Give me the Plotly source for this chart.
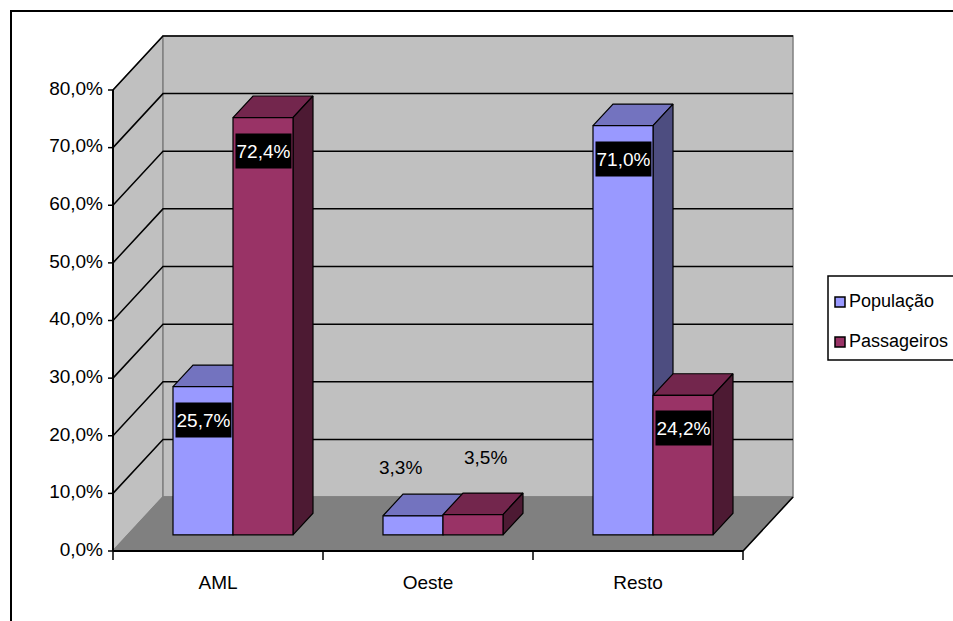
import plotly.graph_objects as go

# ---------------- data ----------------
categories = ["AML", "Oeste", "Resto"]
populacao = [25.7, 3.3, 71.0]
passageiros = [72.4, 3.5, 24.2]
series_names = ["População", "Passageiros"]
y_ticks = [0, 10, 20, 30, 40, 50, 60, 70, 80]

# ---------------- geometry / style ----------------
W, H = 953, 621
PX_LEFT = 113          # front-left corner of floor (px)
SLOT = 210             # px per category
PX_ZERO = 551          # px of 0% on front plane
PX_PER = 5.7625        # px per 1%
DEPTH_PX_X, DEPTH_PX_Y = 50, 54
DXu = DEPTH_PX_X / SLOT
DYv = DEPTH_PX_Y / PX_PER
D_F, D_B = 0.3, 0.7    # bar front / back depth fraction
BAR_W = 60 / SLOT
YMAX = 80

xr = [(0 - PX_LEFT) / SLOT - 0.5, (W - PX_LEFT) / SLOT - 0.5]
yr = [-(H - PX_ZERO) / PX_PER, PX_ZERO / PX_PER]


def px2u(px):
    return (px - PX_LEFT) / SLOT - 0.5


def py2v(py):
    return (PX_ZERO - py) / PX_PER


u_left = -0.5
u_right = len(categories) - 0.5

FONT = "Liberation Sans, Arial, sans-serif"
FS = 19
FS_LEG = 18

colors = {
    "front": ["#9999FF", "#993366"],
    "top": ["#7373BF", "#73264D"],
    "side": ["#4D4D80", "#4D1A33"],
}


def P(u, v, d):
    return u + DXu * d, v + DYv * d


def poly(pts):
    xs = [p[0] for p in pts] + [pts[0][0], None]
    ys = [p[1] for p in pts] + [pts[0][1], None]
    return xs, ys


fig = go.Figure()


def add_poly(pts_list, fill, line_color, lw=1.0):
    xs, ys = [], []
    for pts in pts_list:
        a, b = poly(pts)
        xs += a
        ys += b
    fig.add_trace(go.Scatter(x=xs, y=ys, mode="lines", fill="toself", fillcolor=fill,
                             line=dict(color=line_color, width=lw), hoverinfo="skip",
                             showlegend=False))


def add_lines(segs, color, lw):
    xs, ys = [], []
    for seg in segs:
        xs += [p[0] for p in seg] + [None]
        ys += [p[1] for p in seg] + [None]
    fig.add_trace(go.Scatter(x=xs, y=ys, mode="lines", line=dict(color=color, width=lw),
                             hoverinfo="skip", showlegend=False))


# walls and floor
add_poly([[P(u_left, 0, 0), P(u_left, YMAX, 0), P(u_left, YMAX, 1), P(u_left, 0, 1)]], "#C0C0C0", "#808080", 1.5)
add_poly([[P(u_left, 0, 1), P(u_left, YMAX, 1), P(u_right, YMAX, 1), P(u_right, 0, 1)]], "#C0C0C0", "#808080", 1.5)
add_poly([[P(u_left, 0, 0), P(u_left, 0, 1), P(u_right, 0, 1), P(u_right, 0, 0)]], "#808080", "#808080", 1.5)

# gridlines
add_lines([[P(u_left, v, 0), P(u_left, v, 1), P(u_right, v, 1)] for v in y_ticks if v > 0], "#000000", 1.5)

# bars: top and side faces (front faces are bars on the overlay axes)
for s, vals in enumerate([populacao, passageiros]):
    tops, sides = [], []
    for i, val in enumerate(vals):
        uf0 = i - BAR_W if s == 0 else i
        uf1 = uf0 + BAR_W
        tops.append([P(uf0, val, D_F), P(uf1, val, D_F), P(uf1, val, D_B), P(uf0, val, D_B)])
        sides.append([P(uf1, 0, D_F), P(uf1, val, D_F), P(uf1, val, D_B), P(uf1, 0, D_B)])
    add_poly(tops, colors["top"][s], "#000000", 1.2)
    add_poly(sides, colors["side"][s], "#000000", 1.2)

# front axes
add_lines([[P(u_left, 0, 0), P(u_left, YMAX, 0)]], "#000000", 2)
add_lines([[P(u_left, 0, 0), P(u_right, 0, 0)]], "#000000", 2)
add_lines([[P(u_right, 0, 0), P(u_right, 0, 1)]], "#000000", 1.5)
tick_u = 5 / SLOT
add_lines([[(u_left - tick_u, v), (u_left, v)] for v in y_ticks], "#000000", 1.5)
add_lines([[(k - 0.5, 0), (k - 0.5, -9 / PX_PER)] for k in range(len(categories) + 1)], "#000000", 1.5)

# tick labels
fig.add_trace(go.Scatter(x=[u_left - 10 / SLOT] * len(y_ticks), y=y_ticks, mode="text",
                         text=[f"{v:.1f}".replace(".", ",") + "%" for v in y_ticks],
                         textposition="middle left", textfont=dict(family=FONT, size=FS, color="#000"),
                         hoverinfo="skip", showlegend=False))
fig.add_trace(go.Scatter(x=list(range(len(categories))), y=[-33 / PX_PER] * len(categories), mode="text",
                         text=categories, textposition="middle center",
                         textfont=dict(family=FONT, size=FS, color="#000"),
                         hoverinfo="skip", showlegend=False))

# legend (drawn manually to match the box layout)
leg_py = [302, 342]
fig.add_trace(go.Scatter(x=[px2u(840)] * 2, y=[py2v(p) for p in leg_py], mode="markers",
                         marker=dict(symbol="square", size=10, color=colors["front"],
                                     line=dict(color="#000", width=1.5)),
                         hoverinfo="skip", showlegend=False, cliponaxis=False))
fig.add_trace(go.Scatter(x=[px2u(849)] * 2, y=[py2v(p) for p in leg_py], mode="text",
                         text=series_names, textposition="middle right",
                         textfont=dict(family=FONT, size=FS_LEG, color="#000"),
                         hoverinfo="skip", showlegend=False, cliponaxis=False))

# front faces as real bars on overlay axes
for s, vals in enumerate([populacao, passageiros]):
    xs = []
    for i in range(len(vals)):
        c = i + DXu * D_F
        xs.append(c - BAR_W / 2 if s == 0 else c + BAR_W / 2)
    fig.add_trace(go.Bar(x=xs, y=vals, base=[DYv * D_F] * len(vals), width=BAR_W,
                         marker=dict(color=colors["front"][s], line=dict(color="#000", width=1.2)),
                         name=series_names[s], showlegend=False,
                         xaxis="x2", yaxis="y2", hoverinfo="skip"))

# data labels
annotations = []
out_shift = [(-13, 48), (12, 57)]
for s, vals in enumerate([populacao, passageiros]):
    for i, val in enumerate(vals):
        c = i + DXu * D_F
        xc = c - BAR_W / 2 if s == 0 else c + BAR_W / 2
        txt = f"{val:.1f}".replace(".", ",") + "%"
        ytop = DYv * D_F + val
        if val > 10:
            annotations.append(dict(x=xc, y=ytop, xref="x", yref="y", text=txt, showarrow=False,
                                    yshift=-33, bgcolor="#000000", borderpad=1, width=53, height=32,
                                    font=dict(family=FONT, size=FS, color="#FFFFFF")))
        else:
            annotations.append(dict(x=xc, y=ytop, xref="x", yref="y", text=txt, showarrow=False,
                                    xshift=out_shift[s][0], yshift=out_shift[s][1],
                                    font=dict(family=FONT, size=FS, color="#000000")))

fig.update_layout(
    width=W, height=H, margin=dict(l=0, r=0, t=0, b=0, autoexpand=False),
    paper_bgcolor="white", plot_bgcolor="white",
    barmode="overlay",
    xaxis=dict(range=xr, visible=False, fixedrange=True),
    yaxis=dict(range=yr, visible=False, fixedrange=True),
    xaxis2=dict(range=xr, visible=False, overlaying="x", fixedrange=True),
    yaxis2=dict(range=yr, visible=False, overlaying="y", fixedrange=True),
    showlegend=False,
    annotations=annotations,
    shapes=[
        dict(type="rect", xref="paper", yref="paper", x0=11 / W, x1=1.05, y0=-0.05, y1=1 - 11 / H,
             line=dict(color="#000", width=2), fillcolor="rgba(0,0,0,0)", layer="below"),
        dict(type="rect", xref="paper", yref="paper", x0=828 / W, x1=1.05, y0=1 - 360 / H, y1=1 - 276 / H,
             line=dict(color="#000", width=1.5), fillcolor="white", layer="below"),
    ],
)

fig.write_html("out.html")
